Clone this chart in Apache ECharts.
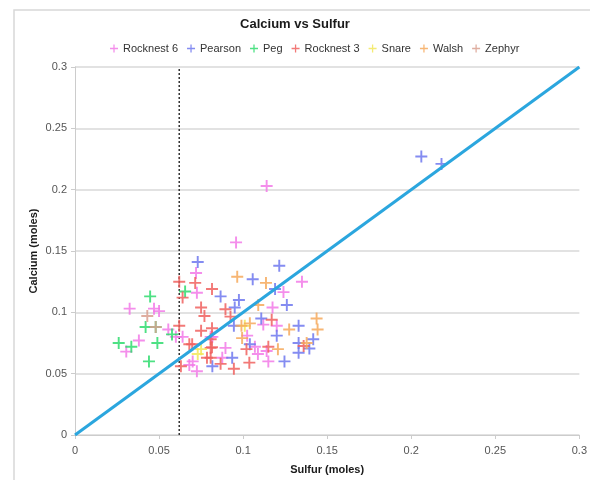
<!DOCTYPE html>
<html><head><meta charset="utf-8">
<script src="https://cdn.jsdelivr.net/npm/echarts@6/dist/echarts.min.js"></script>
<style>html,body{margin:0;padding:0;background:#fff}#c{width:590px;height:480px}</style>
</head><body><div id="c"></div>
<script>
const seriesNames = ['Rocknest 6','Pearson','Peg','Rocknest 3','Snare','Walsh','Zephyr'];
const rocknest6 = [[0.0325,0.103],[0.047,0.103],[0.050,0.101],[0.038,0.077],[0.0305,0.068],[0.0555,0.086],[0.060,0.080],[0.064,0.080],[0.072,0.132],[0.0725,0.116],[0.0807,0.080],[0.070,0.060],[0.0725,0.052],[0.0958,0.157],[0.114,0.203],[0.135,0.125],[0.124,0.1165],[0.1175,0.104],[0.112,0.090],[0.120,0.089],[0.1024,0.081],[0.107,0.072],[0.0895,0.071],[0.114,0.0685],[0.0876,0.063],[0.1088,0.066],[0.115,0.060],[0.0817,0.080],[0.068,0.057]];
const pearson = [[0.073,0.141],[0.1215,0.138],[0.1057,0.127],[0.119,0.119],[0.0866,0.113],[0.0975,0.110],[0.095,0.104],[0.126,0.106],[0.1108,0.095],[0.0945,0.089],[0.133,0.089],[0.120,0.081],[0.104,0.074],[0.1417,0.078],[0.133,0.075],[0.133,0.067],[0.1394,0.0705],[0.0935,0.063],[0.1246,0.060],[0.0817,0.056],[0.206,0.227],[0.218,0.221]];
const peg = [[0.0447,0.113],[0.042,0.088],[0.026,0.075],[0.0335,0.072],[0.049,0.075],[0.044,0.060],[0.0577,0.082],[0.0655,0.117],[0.048,0.088]];
const rocknest3 = [[0.062,0.125],[0.064,0.112],[0.062,0.089],[0.063,0.056],[0.0715,0.124],[0.075,0.104],[0.077,0.097],[0.075,0.085],[0.0815,0.087],[0.0697,0.074],[0.0807,0.071],[0.0785,0.063],[0.0815,0.119],[0.0895,0.1025],[0.0925,0.0965],[0.117,0.094],[0.0807,0.078],[0.068,0.074],[0.0815,0.0715],[0.102,0.070],[0.0807,0.063],[0.1037,0.059],[0.0866,0.058],[0.0945,0.054],[0.136,0.0726],[0.115,0.072]];
const snare = [[0.075,0.070],[0.101,0.089],[0.073,0.066]];
const walsh = [[0.0965,0.129],[0.1136,0.124],[0.109,0.106],[0.1437,0.095],[0.1443,0.086],[0.099,0.089],[0.104,0.091],[0.1274,0.086],[0.0994,0.079],[0.1207,0.070],[0.1378,0.075]];
const zephyr = [[0.043,0.097],[0.048,0.088]];
const seriesData = [rocknest6,pearson,peg,rocknest3,snare,walsh,zephyr];
const colors = ['#f27ae8','#6f78ee','#2fdc6e','#f0615f','#f2e85a','#f6a95c','#d9a08f'];
const refLine = [[0,0],[0.3,0.3]];
const cutoffLine = [[0.062,0],[0.062,0.3]];

const plus = 'path://M4.2,0 H5.8 V4.2 H10 V5.8 H5.8 V10 H4.2 V5.8 H0 V4.2 H4.2 Z';
const font = '"Liberation Sans", Arial, sans-serif';
const chart = echarts.init(document.getElementById('c'));
const series = seriesNames.map((n,i)=>({
  name:n, type:'scatter', data:seriesData[i], symbol:plus, symbolSize:12,
  itemStyle:{color:colors[i], opacity:0.85}, z:3
}));
series.push({type:'line', data:refLine, symbol:'none', lineStyle:{color:'#2ba6de', width:3}, z:4, silent:true});
series.push({type:'line', data:cutoffLine, symbol:'none', lineStyle:{color:'#333', width:1.5, type:[2,2]}, z:2, silent:true});
chart.setOption({
  animation:false,
  graphic:[{type:'rect', shape:{x:14,y:10,width:620,height:520}, style:{fill:'none', stroke:'#d8d8d8', lineWidth:1.5}}],
  title:{text:'Calcium vs Sulfur', left:'center', top:13, textStyle:{fontFamily:font, fontSize:13, fontWeight:'bold', color:'#1a1a1a'}},
  legend:{data:seriesNames, top:38, left:105, icon:plus, itemWidth:8, itemHeight:8, itemGap:9,
    textStyle:{fontFamily:font, fontSize:11, color:'#333'}},
  color:colors,
  grid:{left:75, right:7, top:67, bottom:44, containLabel:false},
  xAxis:{type:'value', min:0, max:0.3, interval:0.05, name:'Sulfur (moles)', nameLocation:'middle', nameGap:29,
    nameTextStyle:{fontFamily:font, fontSize:11, fontWeight:'bold', color:'#1a1a1a'},
    axisLine:{show:true, lineStyle:{color:'#ccc'}}, axisTick:{show:true, length:4, lineStyle:{color:'#ccc'}},
    axisLabel:{fontFamily:font, fontSize:11, color:'#555', margin:10},
    splitLine:{show:false}},
  yAxis:{type:'value', min:0, max:0.3, interval:0.05, name:'Calcium (moles)', nameLocation:'middle', nameGap:36,
    nameMoveOverlap:false,
    nameTextStyle:{fontFamily:font, fontSize:11, fontWeight:'bold', color:'#1a1a1a'},
    axisLine:{show:true, lineStyle:{color:'#ccc'}}, axisTick:{show:true, length:4, lineStyle:{color:'#ccc'}},
    axisLabel:{fontFamily:font, fontSize:11, color:'#555', margin:8},
    splitLine:{show:true, lineStyle:{color:'#d9d9d9', width:1.5}}},
  series:series
});
</script></body></html>
